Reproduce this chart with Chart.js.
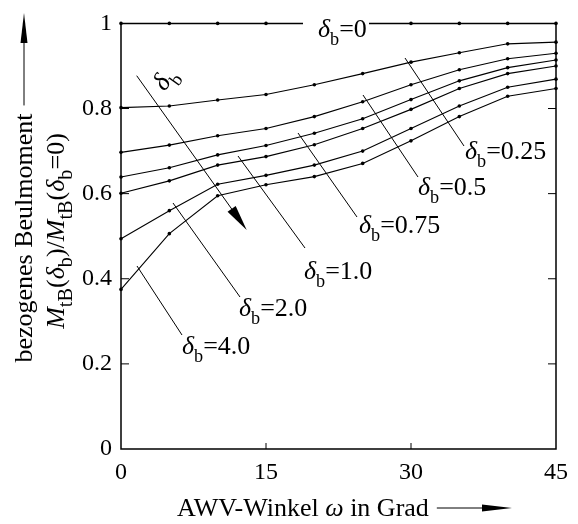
<!DOCTYPE html>
<html>
<head>
<meta charset="utf-8">
<script src="https://cdn.jsdelivr.net/npm/chart.js@4"></script>
<style>
  html, body { margin: 0; padding: 0; background: #fff; }
  canvas { display: block; }
  .probe { position: absolute; left: -1000px; top: 0; font-family: "Liberation Serif"; font-size: 24px; }
</style>
</head>
<body>
<span class="probe">0.8 δb</span><span class="probe" style="font-style:italic">δ ω M</span>
<canvas id="chart" width="578" height="524"></canvas>
<script>
// AWV angle (deg) and relative buckling moment for each delta_b
const angles = [0, 5, 10, 15, 20, 25, 30, 35, 40, 45];
const deltaB = ["0", "0.25", "0.5", "0.75", "1.0", "2.0", "4.0"];
const m0   = [1, 1, 1, 1, 1, 1, 1, 1, 1, 1];
const m025 = [0.802, 0.806, 0.820, 0.833, 0.856, 0.882, 0.909, 0.931, 0.952, 0.956];
const m05  = [0.697, 0.714, 0.736, 0.753, 0.781, 0.816, 0.856, 0.891, 0.917, 0.930];
const m075 = [0.639, 0.661, 0.691, 0.713, 0.742, 0.776, 0.821, 0.865, 0.896, 0.914];
const m10  = [0.601, 0.630, 0.667, 0.687, 0.715, 0.753, 0.798, 0.847, 0.882, 0.900];
const m20  = [0.494, 0.560, 0.622, 0.643, 0.667, 0.700, 0.753, 0.806, 0.850, 0.869];
const m40  = [0.375, 0.506, 0.595, 0.621, 0.640, 0.671, 0.724, 0.781, 0.829, 0.847];
const xTicks = [0, 15, 30, 45];
const yTicks = [0, 0.2, 0.4, 0.6, 0.8, 1];

const serif = "'Liberation Serif', 'Times New Roman', Times, serif";
const series = [m0, m025, m05, m075, m10, m20, m40];

// draw a row of text pieces (italic / subscript), returns width
function drawRuns(ctx, parts, x, y, size, dry, subScale) {
    let w = 0;
    parts.forEach(p => {
        const s = p.sub ? size * (subScale || 0.7) : size;
        ctx.font = (p.it ? "italic " : "") + s + "px " + serif;
        if (!dry) ctx.fillText(p.t, x + w, y + (p.sub ? size * 0.3 : 0));
        w += ctx.measureText(p.t).width;
    });
    return w;
}

function deltaText(v) {
    return [{ t: "δ", it: true }, { t: "b", sub: true }, { t: "=" + v }];
}

function arrowHead(ctx, x1, y1, x2, y2, len, half) {
    const a = Math.atan2(y2 - y1, x2 - x1);
    ctx.beginPath();
    ctx.moveTo(x2, y2);
    ctx.lineTo(x2 - len * Math.cos(a) + half * Math.sin(a), y2 - len * Math.sin(a) - half * Math.cos(a));
    ctx.lineTo(x2 - len * Math.cos(a) - half * Math.sin(a), y2 - len * Math.sin(a) + half * Math.cos(a));
    ctx.closePath();
    ctx.fill();
}

function line(ctx, x1, y1, x2, y2) {
    ctx.beginPath();
    ctx.moveTo(x1, y1);
    ctx.lineTo(x2, y2);
    ctx.stroke();
}

// labels: text start, baseline, leader line
const labels = [
    { i: 0, x: 318, y: 37 },
    { i: 1, x: 465, y: 159, lead: [405, 58, 464, 146] },
    { i: 2, x: 418, y: 195, lead: [363, 95, 418, 177] },
    { i: 3, x: 359, y: 233, lead: [298, 133, 357, 217] },
    { i: 4, x: 304, y: 279, lead: [238, 156, 305, 248] },
    { i: 5, x: 239, y: 316, lead: [173, 203, 240, 297] },
    { i: 6, x: 182, y: 354, lead: [137, 266, 182, 335] }
];

const decor = {
    id: "decor",
    afterDraw(chart) {
        const ctx = chart.ctx;
        const a = chart.chartArea;
        const xs = chart.scales.x, ys = chart.scales.y;
        ctx.save();
        ctx.strokeStyle = "#000";
        ctx.fillStyle = "#000";

        // frame (open at top) and inward ticks
        ctx.lineWidth = 1.5;
        ctx.beginPath();
        ctx.moveTo(a.left, a.top);
        ctx.lineTo(a.left, a.bottom);
        ctx.lineTo(a.right, a.bottom);
        ctx.lineTo(a.right, a.top);
        ctx.stroke();
        ctx.lineWidth = 1;
        yTicks.slice(1, -1).forEach(v => {
            const py = ys.getPixelForValue(v);
            line(ctx, a.left, py, a.left + 8, py);
            line(ctx, a.right, py, a.right - 8, py);
        });
        xTicks.slice(1, -1).forEach(v => {
            const px = xs.getPixelForValue(v);
            line(ctx, px, a.bottom, px, a.bottom - 6);
        });

        // curve labels
        ctx.textBaseline = "alphabetic";
        ctx.fillStyle = "#fff";
        ctx.fillRect(303, a.top - 4, 66, 8);
        ctx.fillStyle = "#000";
        labels.forEach(l => {
            if (l.lead) line(ctx, l.lead[0], l.lead[1], l.lead[2], l.lead[3]);
            drawRuns(ctx, deltaText(deltaB[l.i]), l.x, l.y, 26);
        });

        // delta_b increasing arrow
        line(ctx, 136.7, 75.7, 236, 215);
        arrowHead(ctx, 136.7, 75.7, 246.7, 230, 26, 5);
        ctx.save();
        ctx.translate(166, 80);
        ctx.rotate(-55 * Math.PI / 180);
        const dw = drawRuns(ctx, [{ t: "δ", it: true }, { t: "b", sub: true }], 0, 0, 26, true);
        drawRuns(ctx, [{ t: "δ", it: true }, { t: "b", sub: true }], -dw / 2, 6, 26);
        ctx.restore();

        // y title
        const t1 = [{ t: "bezogenes Beulmoment" }];
        const t2 = [
            { t: "M", it: true }, { t: "tB", sub: true }, { t: "(" }, { t: "δ", it: true }, { t: "b", sub: true },
            { t: ")/" }, { t: "M", it: true }, { t: "tB", sub: true }, { t: "(" }, { t: "δ", it: true },
            { t: "b", sub: true }, { t: "=0)" }
        ];
        ctx.save();
        ctx.translate(32, 238);
        ctx.rotate(-Math.PI / 2);
        const w1 = drawRuns(ctx, t1, 0, 0, 26, true);
        drawRuns(ctx, t1, -w1 / 2, 0, 26);
        ctx.lineWidth = 1;
        line(ctx, w1 / 2 + 8, -8, 215, -8);
        arrowHead(ctx, w1 / 2 + 8, -8, 225, -8, 30, 3.5);
        ctx.restore();
        ctx.save();
        ctx.translate(64, 231);
        ctx.rotate(-Math.PI / 2);
        const w2 = drawRuns(ctx, t2, 0, 0, 26, true, 0.78);
        drawRuns(ctx, t2, -w2 / 2, 0, 26, false, 0.78);
        ctx.restore();

        // x title
        const t3 = [{ t: "AWV-Winkel " }, { t: "ω", it: true }, { t: " in Grad" }];
        const w3 = drawRuns(ctx, t3, 177, 516, 26);
        line(ctx, 177 + w3 + 8, 508, 490, 508);
        arrowHead(ctx, 177 + w3 + 8, 508, 512, 508, 30, 3.5);

        ctx.restore();
    }
};

function build() {
    new Chart(document.getElementById("chart"), {
        type: "line",
        data: {
            datasets: series.map((s, k) => ({
                label: "δb=" + deltaB[k],
                data: angles.map((x, j) => ({ x: x, y: s[j] })),
                borderColor: "#000",
                borderWidth: k === 0 ? 1.5 : 1.1,
                pointRadius: 1.8,
                pointBackgroundColor: "#000",
                pointBorderWidth: 0,
                tension: 0,
                clip: false
            }))
        },
        options: {
            responsive: false,
            animation: false,
            events: [],
            layout: { padding: { top: 14, right: 22, left: 0, bottom: 0 } },
            plugins: { legend: { display: false }, tooltip: { enabled: false } },
            scales: {
                x: {
                    type: "linear",
                    min: 0,
                    max: 45,
                    afterFit: s => { s.height = 75; },
                    afterBuildTicks: s => { s.ticks = xTicks.map(v => ({ value: v })); },
                    grid: { display: false, drawTicks: false },
                    border: { display: false },
                    ticks: { color: "#000", padding: 9, maxRotation: 0, font: { family: serif, size: 24 } }
                },
                y: {
                    min: 0,
                    max: 1,
                    afterFit: s => { s.width = 121; },
                    afterBuildTicks: s => { s.ticks = yTicks.map(v => ({ value: v })); },
                    grid: { display: false, drawTicks: false },
                    border: { display: false },
                    ticks: {
                        color: "#000",
                        padding: 9,
                        font: { family: serif, size: 24 },
                        callback: v => (v === 0 || v === 1) ? String(v) : v.toFixed(1)
                    }
                }
            }
        },
        plugins: [decor]
    });
}

Promise.all([
    document.fonts.load("24px 'Liberation Serif'"),
    document.fonts.load("italic 24px 'Liberation Serif'")
]).then(build, build);
</script>
</body>
</html>
